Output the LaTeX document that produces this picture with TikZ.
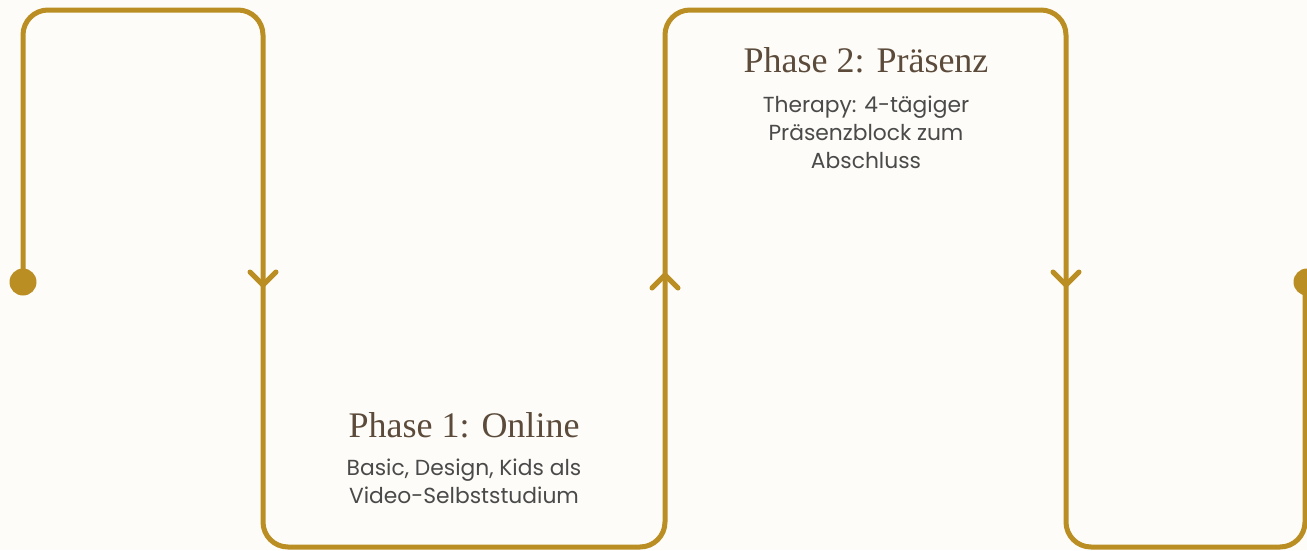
\documentclass[tikz,border=0pt]{standalone}
\usepackage{fontspec}
\setmainfont{Liberation Serif}
\newfontfamily\bodyfont{Poppins}
\usetikzlibrary{positioning}
\definecolor{gold}{RGB}{186,142,35}
\definecolor{paper}{RGB}{253,252,248}
\definecolor{headbrown}{RGB}{92,75,59}
\definecolor{bodygray}{RGB}{74,74,74}
\def\tipdown{++(-13,-13) -- ++(13,13) -- ++(13,-13)}
\def\tipup{++(-13,13) -- ++(13,-13) -- ++(13,13)}
\def\dgold{\draw[gold,line width=5pt,line cap=round,line join=round]}
\tikzset{
  dot/.style={circle,fill=gold,inner sep=0pt,minimum size=27pt},
  head/.style={headbrown,font=\fontsize{36}{40}\selectfont,anchor=base},
  body/.style={bodygray,align=center,font=\bodyfont\fontsize{21.8}{28}\selectfont,inner sep=0pt,anchor=base}
}
\begin{document}
\begin{tikzpicture}[x=1pt,y=-1pt]
                \fill[paper] (0,0) rectangle (1307,550);
                \useasboundingbox (0,0) rectangle (1307,550);
                \node[dot] (start) at (23,282) {};
                \node[dot] (stop) at (1307,282) {};
                \dgold[rounded corners=25pt] (start.center) -- (23,10) -- (263,10)
                    -- (263,547) -- (665,547) -- (665,10) -- (1066,10)
                    -- (1066,547) -- (1305,547) -- (1305,282);
                \dgold (263,285) \tipdown;
                \dgold (665,275) \tipup;
                \dgold (1066,285) \tipdown;
                % Phase 1
                \node[head] (online) at (464,437) {Phase 1: Online};
                \node[body] (onlinetxt) at (464,503)
                    {Basic, Design, Kids als\\Video-Selbststudium};
                % Phase 2
                \node[head] (praesenz) at (866,72) {Phase 2: Präsenz};
                \node[body] (praesenztxt) at (866,168)
                    {Therapy: 4-tägiger\\Präsenzblock zum\\Abschluss};
            \end{tikzpicture}
\end{document}
